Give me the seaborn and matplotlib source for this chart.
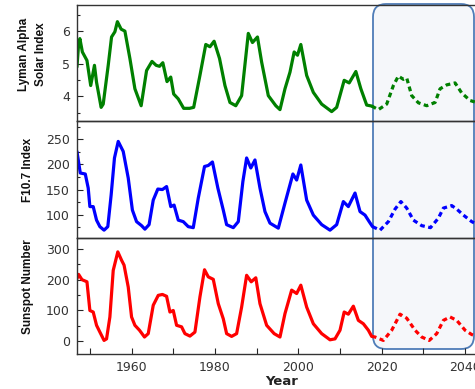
import numpy as np
import pandas as pd
import matplotlib
matplotlib.use("Agg")
import matplotlib.pyplot as plt
import matplotlib.transforms as mtransforms
from matplotlib.patches import FancyBboxPatch
from matplotlib.ticker import MultipleLocator
import seaborn as sns

# Lyman alpha solar index (observed, then forecast)
lya_years = [1946.9, 1947.3, 1947.6, 1948.2, 1949.3, 1950.2, 1951.1, 1951.6, 1952.7, 1953.2,
             1954.4, 1955.2, 1956.0, 1956.6, 1957.5, 1958.4, 1959.6, 1960.8, 1962.3, 1963.6,
             1964.9, 1965.9, 1966.7, 1967.5, 1968.5, 1969.4, 1970.1, 1971.2, 1972.5, 1973.9,
             1974.9, 1976.4, 1977.8, 1978.8, 1979.8, 1981.1, 1982.4, 1983.6, 1985.0, 1986.4,
             1988.0, 1989.0, 1990.2, 1991.2, 1992.8, 1994.6, 1995.6, 1996.8, 1998.0, 1999.0,
             1999.8, 2000.6, 2002.0, 2003.6, 2005.6, 2008.0, 2009.2, 2011.0, 2012.2, 2013.8,
             2015.0, 2016.4, 2017.6]
lya_vals = [4.90, 5.60, 5.77, 5.36, 5.10, 4.33, 4.95, 4.43, 3.66, 3.76,
            4.95, 5.82, 5.98, 6.29, 6.06, 6.00, 5.16, 4.23, 3.71, 4.79,
            5.07, 4.95, 4.92, 5.03, 4.45, 4.59, 4.07, 3.92, 3.63, 3.63,
            3.66, 4.64, 5.59, 5.52, 5.69, 5.16, 4.33, 3.81, 3.71, 4.02,
            5.93, 5.65, 5.82, 5.05, 4.02, 3.71, 3.59, 4.23, 4.74, 5.36,
            5.26, 5.59, 4.64, 4.12, 3.76, 3.53, 3.66, 4.49, 4.41, 4.76,
            4.23, 3.73, 3.70]
lya_fc_years = [2017.6, 2019.2, 2021.2, 2022.8, 2024.0, 2025.2, 2026.0, 2027.2, 2028.8,
                2030.8, 2032.8, 2034.0, 2035.6, 2037.6, 2039.2, 2041.2, 2043.0]
lya_fc_vals = [3.70, 3.59, 3.76, 4.33, 4.62, 4.52, 4.56, 4.02, 3.80,
               3.71, 3.81, 4.23, 4.35, 4.41, 4.10, 3.87, 3.80]

# F10.7 index
f107_years = [1946.9, 1947.7, 1948.9, 1949.6, 1950.0, 1950.8, 1951.6, 1952.4, 1953.4, 1954.3,
              1955.1, 1955.9, 1956.8, 1958.0, 1959.2, 1960.2, 1961.2, 1962.4, 1963.2, 1964.2,
              1965.2, 1966.3, 1967.4, 1968.4, 1969.4, 1970.2, 1971.2, 1972.4, 1973.6, 1974.8,
              1976.0, 1977.5, 1978.4, 1979.4, 1980.7, 1982.0, 1982.8, 1984.4, 1985.6, 1986.7,
              1987.6, 1988.6, 1989.6, 1990.8, 1992.0, 1993.2, 1995.2, 1996.8, 1998.7, 1999.6,
              2000.6, 2002.0, 2003.6, 2005.6, 2007.6, 2009.2, 2010.8, 2012.0, 2013.6, 2014.8,
              2016.0, 2017.0, 2017.8]
f107_vals = [226, 183, 181, 153, 116, 116, 89, 76, 69, 76,
             139, 213, 246, 226, 173, 109, 86, 78, 71, 80,
             129, 151, 150, 156, 116, 119, 89, 86, 76, 74,
             133, 196, 198, 205, 153, 109, 80, 74, 86, 166,
             213, 193, 209, 153, 106, 83, 73, 123, 181, 169,
             199, 129, 99, 80, 69, 80, 126, 116, 143, 106,
             99, 86, 76]
f107_fc_years = [2017.8, 2019.6, 2021.6, 2023.2, 2024.6, 2026.0, 2027.6, 2029.6, 2031.7,
                 2033.6, 2034.8, 2036.8, 2038.0, 2039.6, 2041.6, 2043.0]
f107_fc_vals = [76, 69, 86, 111, 126, 113, 89, 78, 74,
                93, 113, 118, 111, 99, 86, 80]

# Sunspot number
ssn_years = [1946.9, 1947.3, 1948.1, 1949.3, 1950.0, 1950.8, 1951.6, 1952.4, 1953.4, 1954.0,
             1954.8, 1955.6, 1956.7, 1957.6, 1958.2, 1959.2, 1960.0, 1960.8, 1961.9, 1963.1,
             1964.0, 1965.2, 1966.4, 1967.4, 1968.4, 1969.2, 1970.0, 1970.8, 1972.0, 1972.8,
             1974.0, 1975.2, 1976.4, 1977.5, 1978.4, 1979.6, 1980.8, 1982.0, 1982.8, 1984.0,
             1985.2, 1986.4, 1987.6, 1988.7, 1989.8, 1990.8, 1992.4, 1994.2, 1995.6, 1996.8,
             1998.4, 1999.6, 2000.6, 2002.0, 2003.6, 2005.6, 2007.6, 2008.8, 2010.0, 2011.0,
             2012.0, 2013.2, 2014.4, 2015.6, 2016.8, 2017.6]
ssn_vals = [203, 217, 200, 193, 100, 95, 52, 30, 3, 8,
            79, 230, 290, 263, 247, 176, 79, 52, 36, 14,
            25, 117, 149, 152, 146, 95, 100, 52, 47, 25,
            17, 30, 144, 232, 209, 201, 122, 73, 25, 16,
            25, 111, 214, 193, 206, 122, 52, 25, 14, 90,
            166, 155, 182, 111, 57, 25, 5, 8, 36, 95,
            88, 114, 68, 57, 36, 16]
ssn_fc_years = [2017.6, 2018.4, 2020.4, 2022.4, 2024.4, 2026.0, 2028.0, 2029.6, 2031.4,
                2033.2, 2034.8, 2036.4, 2038.0, 2040.0, 2041.6, 2043.0]
ssn_fc_vals = [16, 14, 3, 36, 88, 75, 36, 14, 3,
               25, 68, 79, 68, 36, 22, 15]

sns.set_style("ticks")
plt.rcParams["font.family"] = ["DejaVu Sans"]

fig, axes = plt.subplots(3, 1, figsize=(4.75, 3.89), dpi=100, sharex=True)
fig.subplots_adjust(left=0.162, right=1.023, top=0.987, bottom=0.090, hspace=0)

# highlight box for the forecast period (pixel coords)
box = FancyBboxPatch((373, 40), 101, 345,
                     boxstyle="round,pad=0,rounding_size=13",
                     transform=mtransforms.IdentityTransform(),
                     facecolor="#f5f7fa", edgecolor="#4f7db8", linewidth=1.3, zorder=-1)
fig.patches.append(box)

panels = [
    (lya_years, lya_vals, lya_fc_years, lya_fc_vals, "#008000",
     "Lyman Alpha\nSolar Index", (3.23, 6.8), 1, 0.5, -0.108),
    (f107_years, f107_vals, f107_fc_years, f107_fc_vals, "#0000ff",
     "F10.7 Index", (54, 286), 50, 25, -0.120),
    (ssn_years, ssn_vals, ssn_fc_years, ssn_fc_vals, "#ff0000",
     "Sunspot Number", (-41, 336), 100, 50, -0.120),
]

for ax, (yr, v, fyr, fv, col, lab, ylim, major, minor, lx) in zip(axes, panels):
    ax.patch.set_visible(False)
    obs = pd.DataFrame({"year": yr, "value": v})
    fc = pd.DataFrame({"year": fyr, "value": fv})
    sns.lineplot(data=obs, x="year", y="value", ax=ax, color=col, linewidth=2.3,
                 estimator=None, sort=False)
    sns.lineplot(data=fc, x="year", y="value", ax=ax, color=col, linewidth=2.3,
                 estimator=None, sort=False, linestyle=(0, (1.5, 1.1)))
    ax.set_ylim(*ylim)
    ax.yaxis.set_major_locator(MultipleLocator(major))
    ax.yaxis.set_minor_locator(MultipleLocator(minor))
    ax.set_ylabel(lab, fontsize=8.5, fontweight="bold", linespacing=1.6,
                  color="#111111", family=["Liberation Sans", "DejaVu Sans"])
    ax.yaxis.label.set_verticalalignment("center")
    ax.yaxis.set_label_coords(lx, 0.58)
    ax.set_xlabel("")
    ax.tick_params(axis="y", which="major", direction="in", length=4, width=0.8,
                   labelsize=9, labelcolor="#333333", pad=5)
    ax.tick_params(axis="y", which="minor", direction="in", length=2.5, width=0.8)
    for s in ax.spines.values():
        s.set_color("#333333")
        s.set_linewidth(1.0)

axes[0].tick_params(axis="x", which="both", bottom=False)
axes[1].tick_params(axis="x", which="both", bottom=False)

ax = axes[2]
ax.set_xlim(1946.9, 2045)
ax.xaxis.set_major_locator(MultipleLocator(20))
ax.xaxis.set_minor_locator(MultipleLocator(10))
ax.tick_params(axis="x", which="both", direction="in", length=4, width=0.8,
               labelsize=9, labelcolor="#333333", pad=5)
ax.set_xlabel("Year", fontsize=9.5, fontweight="bold", color="#222222", labelpad=1)

fig.savefig("out.png", dpi=100)
